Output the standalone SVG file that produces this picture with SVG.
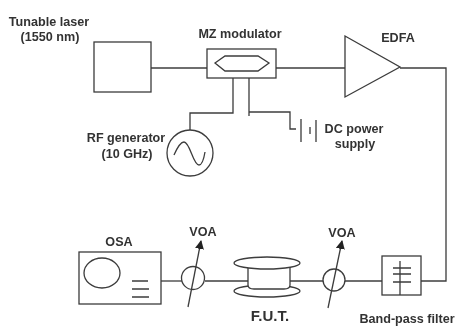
<svg xmlns="http://www.w3.org/2000/svg" width="458" height="329" viewBox="0 0 458 329">
<style>
.s{fill:none;stroke:#3c3c3c;stroke-width:1.3}
.f{fill:#fff;stroke:#3c3c3c;stroke-width:1.3}
.t{font-family:"Liberation Sans",Arial,sans-serif;font-weight:bold;font-size:12.6px;fill:#333;text-anchor:middle}
</style>
<defs>
<marker id="a" markerWidth="9" markerHeight="9" refX="8" refY="4.5" orient="auto" markerUnits="userSpaceOnUse"><path d="M0,0L9,4.5L0,9z" fill="#222"/></marker>
<filter id="b" x="0" y="0" width="100%" height="100%"><feGaussianBlur stdDeviation="0.45"/></filter>
</defs>
<rect width="458" height="329" fill="#fff"/>
<g filter="url(#b)">
<g id="connectors">
<path class="s" d="M151 68H207"/>
<path class="s" d="M276 68H345"/>
<path class="s" d="M400 68H446V281H421"/>
<path class="s" d="M161 281H182"/>
<path class="s" d="M205 281H248"/>
<path class="s" d="M290 281H323"/>
<path class="s" d="M345 281H382"/>
<path class="s" d="M233 78V113H190V130"/>
<path class="s" d="M249 78V116"/>
<path class="s" d="M249 112H290V129H296"/>
</g>
<g id="laser"><rect class="f" x="94" y="42" width="57" height="50"/><text class="t" x="49" y="25.500">Tunable laser</text><text class="t" x="50" y="41">(1550 nm)</text></g>
<g id="mz"><rect class="f" x="207" y="49" width="69" height="29"/><path class="s" d="M215 63L225 56H258L269 63L258 71H225Z"/><text class="t" x="240" y="38">MZ modulator</text></g>
<g id="edfa"><path class="f" d="M345 36L400 67L345 97Z"/><text class="t" x="398" y="42">EDFA</text></g>
<g id="rf"><circle class="f" cx="190" cy="153" r="23"/><path class="s" d="M174 155C178 146 181 142 184 142C190 142 193 165 199 165C202 165 204 158 205 152"/><text class="t" x="126" y="142">RF generator</text><text class="t" x="127" y="158">(10 GHz)</text></g>
<g id="dc"><path class="s" d="M301 119V142M310 127V134M316 120V142"/><text class="t" x="354" y="133">DC power</text><text class="t" x="355" y="148">supply</text></g>
<g id="osa"><rect class="f" x="79" y="252" width="82" height="52"/><ellipse class="s" cx="102" cy="273" rx="18" ry="15"/><path class="s" d="M132 281H148M132 289H149M132 297H149"/><text class="t" x="119" y="246">OSA</text></g>
<g id="voa1"><circle class="f" cx="193" cy="278" r="11.500"/><path class="s" d="M188 307L201 241" marker-end="url(#a)"/><text class="t" x="203" y="236">VOA</text></g>
<g id="fut"><ellipse class="f" cx="267" cy="291" rx="33" ry="6"/><path class="f" d="M248 266V285Q248 289 254 289H284Q290 289 290 285V266Z"/><ellipse class="f" cx="267" cy="263" rx="33" ry="6"/><text class="t" x="270" y="321" style="font-size:15px">F.U.T.</text></g>
<g id="voa2"><circle class="f" cx="334" cy="280" r="11"/><path class="s" d="M328 308L342 241" marker-end="url(#a)"/><text class="t" x="342" y="237">VOA</text></g>
<g id="bpf"><rect class="f" x="382" y="256" width="39" height="39"/><path class="s" d="M400 261V295M393 268H411M393 274H411M393 282H411"/><text class="t" x="407" y="323">Band-pass filter</text></g>
</g>
</svg>
